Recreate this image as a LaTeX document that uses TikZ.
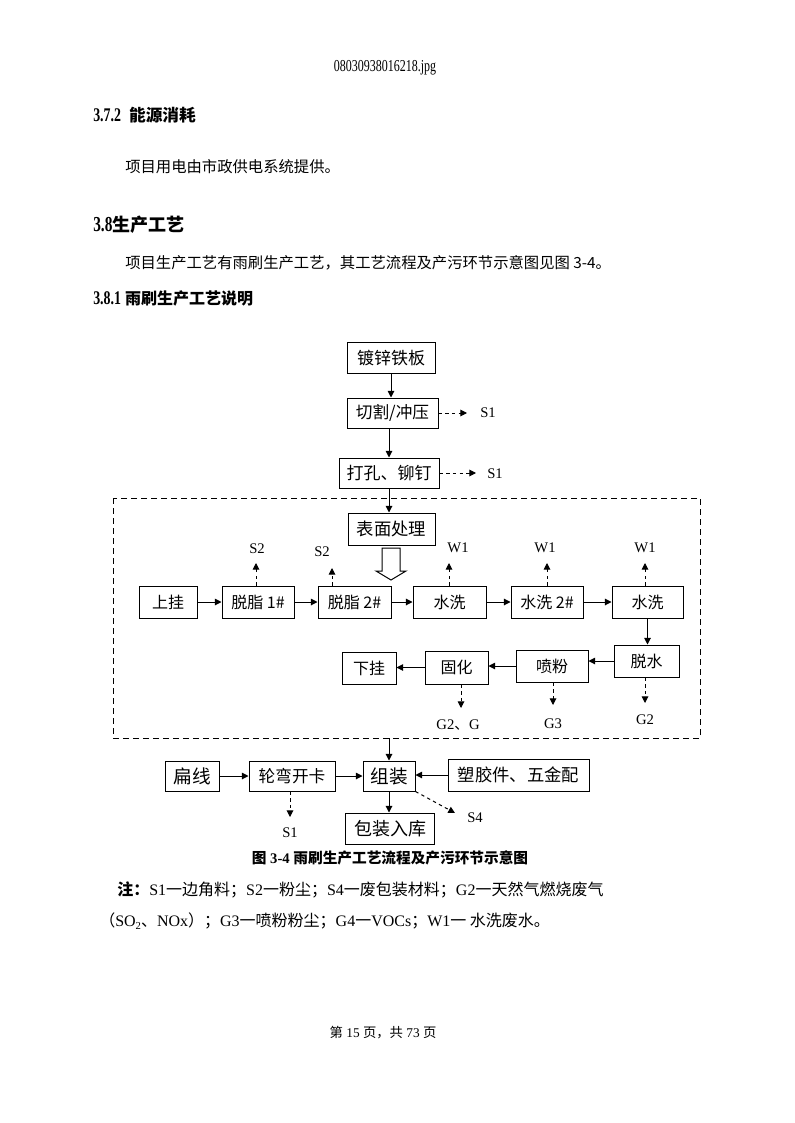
\documentclass[tikz,border=0pt]{standalone}
\usepackage{fontspec}
\usepackage{graphicx}
\setmainfont{Liberation Serif}
\newfontfamily\cjk{Noto Sans CJK SC}
\usetikzlibrary{arrows.meta}
\begin{document}
\begin{tikzpicture}[x=0.75pt,y=-0.75pt,
  bx/.style={draw,line width=0.75pt,inner sep=0pt,font=\cjk\fontsize{12pt}{14pt}\selectfont},
  lbl/.style={inner sep=0pt,font=\fontsize{11pt}{13pt}\selectfont},
  flow/.style={line width=0.75pt,-{Triangle[length=5pt,width=5pt]}},
  emis/.style={line width=0.75pt,dash pattern=on 2.5pt off 2.5pt,-{Triangle[length=5pt,width=5pt]}},
  framestyle/.style={line width=0.75pt,dash pattern=on 4.5pt off 3pt},
  txt/.style={inner sep=0pt,anchor=west}]
\useasboundingbox (0,0) rectangle (794,1123);
\fill[white] (0,0) rectangle (794,1123);

% ---- page text ----
\node[inner sep=0pt] (h0) at (385,68) {\scalebox{0.72}[1]{\fontsize{12.5pt}{14pt}\selectfont 08030938016218.jpg}};
\node[txt] (h1) at (93,115) {\bfseries\fontsize{12.5pt}{14pt}\selectfont\scalebox{0.72}[1]{\fontsize{14.5pt}{16pt}\selectfont 3.7.2}\hspace{6pt}{\cjk\bfseries 能源消耗}};
\node[txt] (p1) at (125,167) {\cjk\fontsize{11.5pt}{14pt}\selectfont 项目用电由市政供电系统提供。};
\node[txt] (h2) at (93,225) {\bfseries\fontsize{13.5pt}{16pt}\selectfont\scalebox{0.72}[1]{\fontsize{16pt}{18pt}\selectfont 3.8}{\cjk\bfseries 生产工艺}};
\node[txt] (p2) at (125,263) {\cjk\fontsize{11.5pt}{14pt}\selectfont 项目生产工艺有雨刷生产工艺，其工艺流程及产污环节示意图见图 3-4。};
\node[txt] (h3) at (93,298) {\bfseries\fontsize{12pt}{14pt}\selectfont\scalebox{0.72}[1]{\fontsize{14.5pt}{16pt}\selectfont 3.8.1}\hspace{3pt}{\cjk\bfseries 雨刷生产工艺说明}};

% ---- top column ----
\node[bx,minimum width=66pt,minimum height=23.25pt,font=\cjk\fontsize{12.75pt}{14pt}\selectfont] (b1) at (391,358) {镀锌铁板};
\node[bx,minimum width=68.25pt,minimum height=22.5pt,font=\cjk\fontsize{12.5pt}{14pt}\selectfont] (b2) at (392.5,413) {切割/冲压};
\node[bx,minimum width=75pt,minimum height=22.5pt,font=\cjk\fontsize{12.75pt}{14pt}\selectfont] (b3) at (389,473) {打孔、铆钉};

% ---- frame ----
\draw[framestyle] (113,498) rectangle (700,738);
\node[bx,minimum width=65.25pt,minimum height=24pt,font=\cjk\fontsize{13pt}{14pt}\selectfont] (b4) at (391.5,529) {表面处理};

% row 1
\node[bx,minimum width=43.5pt,minimum height=24pt] (r1) at (168,602) {上挂};
\node[bx,minimum width=54pt,minimum height=24pt] (r2) at (258,602) {脱脂 1\#};
\node[bx,minimum width=54.75pt,minimum height=24pt] (r3) at (354.5,602) {脱脂 2\#};
\node[bx,minimum width=54.75pt,minimum height=24pt] (r4) at (449.5,602) {水洗};
\node[bx,minimum width=54pt,minimum height=24pt] (r5) at (547,602) {水洗 2\#};
\node[bx,minimum width=53.25pt,minimum height=24pt] (r6) at (647.5,602) {水洗};

% row 2
\node[bx,minimum width=40.5pt,minimum height=24pt] (s1) at (369,668) {下挂};
\node[bx,minimum width=47.25pt,minimum height=24.75pt] (s2) at (456.5,667.5) {固化};
\node[bx,minimum width=54pt,minimum height=24pt] (s3) at (552,666) {喷粉};
\node[bx,minimum width=48.75pt,minimum height=24pt] (s4) at (646.5,661) {脱水};

% bottom row
\node[bx,minimum width=40.5pt,minimum height=22.5pt,font=\cjk\fontsize{14pt}{16pt}\selectfont] (t1) at (192,776) {扁线};
\node[bx,minimum width=64.5pt,minimum height=22.5pt,font=\cjk\fontsize{12.5pt}{14pt}\selectfont] (t2) at (292,776) {轮弯开卡};
\node[bx,minimum width=39pt,minimum height=22.5pt,font=\cjk\fontsize{14pt}{16pt}\selectfont] (t3) at (389,776) {组装};
\node[bx,minimum width=105.75pt,minimum height=24pt,font=\cjk\fontsize{13pt}{15pt}\selectfont] (t4) at (518.5,775) {塑胶件、五金配};
\node[bx,minimum width=66.75pt,minimum height=23.25pt,font=\cjk\fontsize{13.5pt}{15pt}\selectfont] (t5) at (390,828.5) {包装入库};

% hollow arrow
\draw[line width=0.75pt] (382,548) -- (400,548) -- (400,571) -- (406,571) -- (391,580) -- (376,571) -- (382,571) -- cycle;

% ---- flow arrows ----
\draw[flow] (b1.south) -- (b1.south |- b2.north);
\draw[flow] (b3.north |- b2.south) -- (b3.north);
\draw[flow] (b3.south) -- (b3.south |- b4.north);
\draw[flow] (r1) -- (r2);
\draw[flow] (r2) -- (r3);
\draw[flow] (r3) -- (r4);
\draw[flow] (r4) -- (r5);
\draw[flow] (r5) -- (r6);
\draw[flow] (r6.south) -- (r6.south |- s4.north);
\draw[flow] (s4.west) -- (s3.east |- s4.west);
\draw[flow] (s3.west) -- (s2.east |- s3.west);
\draw[flow] (s2.west) -- (s1.east |- s2.west);
\coordinate (fb) at (389,738);
\draw[flow] (fb) -- (t3.north);
\draw[flow] (t1) -- (t2);
\draw[flow] (t2) -- (t3);
\draw[flow] (t4.west) -- (t3.east |- t4.west);
\draw[flow] (t3.south) -- (t3.south |- t5.north);

% ---- emissions ----
\coordinate (e1) at (467,413);
\draw[emis] (b2.east) -- (e1);
\node[lbl] (l1) at (488,413) {S1};
\coordinate (e2) at (476,473);
\draw[emis] (b3.east) -- (e2);
\node[lbl] (l2) at (495,474) {S1};

\coordinate (e3) at (256,563);
\draw[emis] (e3 |- r2.north) -- (e3);
\node[lbl] (l3) at (257,549) {S2};
\coordinate (e4) at (332,568);
\draw[emis] (e4 |- r3.north) -- (e4);
\node[lbl] (l4) at (322,552) {S2};

\coordinate (e5) at (449,563);
\draw[emis] (e5 |- r4.north) -- (e5);
\node[lbl] (l5) at (458,548) {W1};
\coordinate (e6) at (547,563);
\draw[emis] (e6 |- r5.north) -- (e6);
\node[lbl] (l6) at (545,548) {W1};
\coordinate (e7) at (645,563);
\draw[emis] (e7 |- r6.north) -- (e7);
\node[lbl] (l7) at (645,548) {W1};

\coordinate (e8) at (461,708);
\draw[emis] (e8 |- s2.south) -- (e8);
\node[lbl] (l8) at (458,725) {G2{\cjk 、}G};
\coordinate (e9) at (553,705);
\draw[emis] (e9 |- s3.south) -- (e9);
\node[lbl] (l9) at (553,724) {G3};
\coordinate (e10) at (645,703);
\draw[emis] (e10 |- s4.south) -- (e10);
\node[lbl] (l10) at (645,720) {G2};

\coordinate (e11) at (290,817);
\draw[emis] (e11 |- t2.south) -- (e11);
\node[lbl] (l11) at (290,833) {S1};
\coordinate (e12) at (455,813);
\draw[emis] (t3.south east) -- (e12);
\node[lbl] (l12) at (475,818) {S4};

% ---- caption & notes ----
\node[inner sep=0pt] (cap) at (390,858) {\bfseries\fontsize{11pt}{13pt}\selectfont{\cjk\bfseries 图} 3-4 {\cjk\bfseries 雨刷生产工艺流程及产污环节示意图}};
\node[txt] (n1) at (117,890) {\fontsize{12pt}{14pt}\selectfont{\cjk\bfseries 注：}S1{\cjk 一边角料；}S2{\cjk 一粉尘；}S4{\cjk 一废包装材料；}G2{\cjk 一天然气燃烧废气}};
\node[txt] (n2) at (99,921) {\fontsize{12pt}{14pt}\selectfont{\cjk （}SO\raisebox{-0.35ex}{\fontsize{8pt}{9pt}\selectfont 2}{\cjk 、}NOx{\cjk ）；}G3{\cjk 一喷粉粉尘；}G4{\cjk 一}VOCs{\cjk ；}W1{\cjk 一 水洗废水。}};
\node[inner sep=0pt] (ft) at (383,1033) {\fontsize{10pt}{12pt}\selectfont{\cjk 第} 15 {\cjk 页，共} 73 {\cjk 页}};
\end{tikzpicture}
\end{document}
